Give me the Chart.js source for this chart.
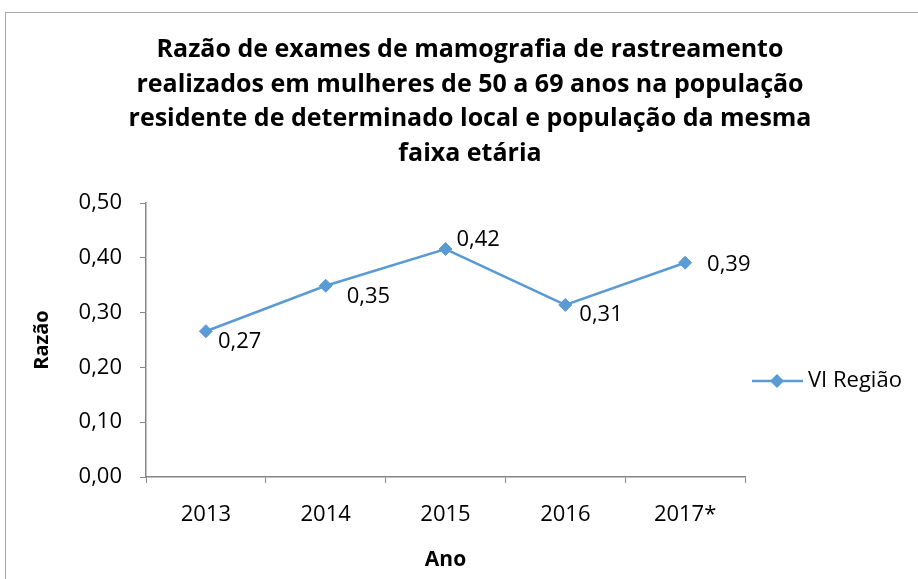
<!DOCTYPE html>
<html>
<head>
<meta charset="utf-8">
<script src="https://cdn.jsdelivr.net/npm/chart.js@4/dist/chart.umd.min.js"></script>
<style>
    html, body { margin: 0; padding: 0; background: #fff; overflow: hidden; }
    #frame {
        position: absolute; left: 5px; top: 12px;
        width: 1000px; height: 1000px;
        border: 1px solid #a6a6a6;
    }
    #wrap { position: absolute; left: 0; top: 0; width: 918px; height: 579px; }
</style>
</head>
<body>
<div id="frame"></div>
<div id="wrap"><canvas id="myChart" width="918" height="579"></canvas></div>
<script>
const categories = ['2013', '2014', '2015', '2016', '2017*'];
const seriesName = 'VI Região';
const razaoValues = [0.266, 0.349, 0.416, 0.314, 0.391];
const valueLabels = ['0,27', '0,35', '0,42', '0,31', '0,39'];
const titleLines = [
    'Razão de exames de mamografia de rastreamento',
    'realizados em mulheres de 50 a 69 anos na população',
    'residente de determinado local e população da mesma',
    'faixa etária'
];

const blue = '#5B9BD5';
const axisGray = '#868686';
const fontFamily = '"Open Sans", sans-serif';

// onde fica cada rótulo em relação ao ponto (como no Excel)
const labelShift = [[12, 11], [21, 11], [11, -9], [14, 10], [22, 2]];

const titlePlugin = {
    id: 'bigTitle',
    afterDraw(chart) {
        const ctx = chart.ctx;
        ctx.save();
        ctx.fillStyle = '#000';
        ctx.font = 'bold 25px ' + fontFamily;
        ctx.textAlign = 'center';
        ctx.textBaseline = 'middle';
        titleLines.forEach((line, i) => {
            ctx.fillText(line, 470, 50 + i * 34.5);
        });
        ctx.restore();
    }
};

const valueLabelPlugin = {
    id: 'valueLabels',
    afterDatasetsDraw(chart) {
        const ctx = chart.ctx;
        const meta = chart.getDatasetMeta(0);
        ctx.save();
        ctx.fillStyle = '#000';
        ctx.font = '22px ' + fontFamily;
        ctx.textAlign = 'left';
        ctx.textBaseline = 'middle';
        meta.data.forEach((pt, i) => {
            ctx.fillText(valueLabels[i], pt.x + labelShift[i][0], pt.y + labelShift[i][1]);
        });
        ctx.restore();
    }
};

const legendPlugin = {
    id: 'sideLegend',
    afterDraw(chart) {
        const ctx = chart.ctx;
        const x0 = chart.chartArea.right + 7;
        const y = 381;
        ctx.save();
        ctx.strokeStyle = blue;
        ctx.lineWidth = 2.5;
        ctx.beginPath();
        ctx.moveTo(x0, y);
        ctx.lineTo(x0 + 51, y);
        ctx.stroke();
        ctx.fillStyle = blue;
        ctx.beginPath();
        ctx.moveTo(x0 + 25, y - 7);
        ctx.lineTo(x0 + 32, y);
        ctx.lineTo(x0 + 25, y + 7);
        ctx.lineTo(x0 + 18, y);
        ctx.closePath();
        ctx.fill();
        ctx.fillStyle = '#000';
        ctx.font = '22px ' + fontFamily;
        ctx.textAlign = 'left';
        ctx.textBaseline = 'middle';
        ctx.fillText(seriesName, x0 + 56, y);
        ctx.restore();
    }
};

function fmt(v) {
    return Number(v).toFixed(2).replace('.', ',');
}

const ctx = document.getElementById('myChart').getContext('2d');
const chart = new Chart(ctx, {
    type: 'line',
    data: {
        labels: categories,
        datasets: [{
            label: seriesName,
            data: razaoValues,
            borderColor: blue,
            backgroundColor: blue,
            borderWidth: 2.5,
            tension: 0,
            pointStyle: 'rectRot',
            pointRadius: 6.5,
            pointBackgroundColor: blue,
            pointBorderColor: blue,
            pointBorderWidth: 1
        }]
    },
    options: {
        responsive: false,
        animation: false,
        devicePixelRatio: 1,
        layout: {
            padding: { left: 10, right: 173, top: 203, bottom: 0 }
        },
        plugins: {
            legend: { display: false },
            title: { display: false },
            tooltip: { enabled: false }
        },
        scales: {
            x: {
                type: 'category',
                offset: true,
                afterFit(scale) { scale.height = 102; },
                grid: {
                    offset: true,
                    drawOnChartArea: false,
                    drawTicks: true,
                    tickLength: 6,
                    color: axisGray
                },
                border: { color: axisGray, width: 1.5 },
                ticks: {
                    color: '#000',
                    padding: 19,
                    font: { family: fontFamily, size: 22 }
                },
                title: {
                    display: true,
                    text: 'Ano',
                    color: '#000',
                    padding: { top: 0, bottom: 6 },
                    font: { family: fontFamily, size: 21, weight: 'bold' }
                }
            },
            y: {
                min: 0,
                max: 0.5,
                afterFit(scale) { scale.width = 136; },
                grid: {
                    drawOnChartArea: false,
                    drawTicks: true,
                    tickLength: 6,
                    color: axisGray
                },
                border: { color: axisGray, width: 1.5 },
                ticks: {
                    stepSize: 0.1,
                    color: '#000',
                    padding: 18,
                    font: { family: fontFamily, size: 22 },
                    callback: (v) => fmt(v)
                },
                title: {
                    display: true,
                    text: 'Razão',
                    color: '#000',
                    padding: { top: 20, bottom: 0 },
                    font: { family: fontFamily, size: 20, weight: 'bold' }
                }
            }
        }
    },
    plugins: [titlePlugin, valueLabelPlugin, legendPlugin]
});
</script>
</body>
</html>
